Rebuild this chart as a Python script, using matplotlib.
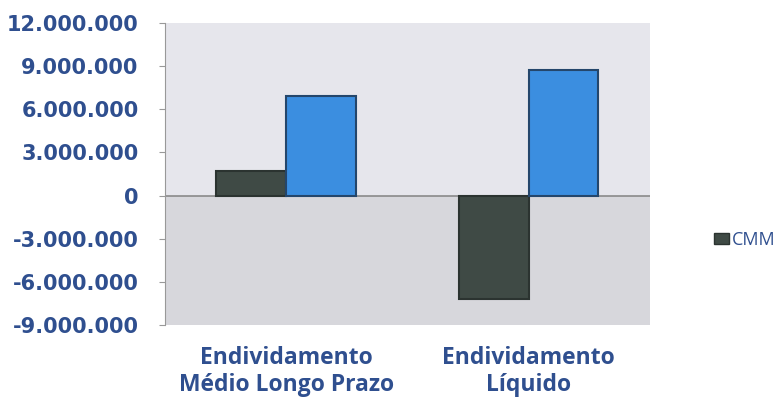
import matplotlib
matplotlib.use("Agg")
import matplotlib.pyplot as plt
from matplotlib.ticker import FuncFormatter, MultipleLocator
from matplotlib.patches import Patch

categories = ["Endividamento\nMédio Longo Prazo", "Endividamento\nLíquido"]
cmm_values = [1700000, -7200000]
other_values = [6900000, 8700000]
legend_labels = ["CMM"]

text_blue = "#2f4f8f"
dark_bar = "#3f4a45"
blue_bar = "#3b8ee0"

fig = plt.figure(figsize=(7.8, 4.0), dpi=100)
ax = fig.add_axes([0.2115, 0.1875, 0.6215, 0.755])

ymin, ymax = -9000000, 12000000
ax.set_ylim(ymin, ymax)
ax.set_xlim(-0.5, 1.5)

# two-tone backdrop above and below zero
ax.axhspan(0, ymax, color="#e6e6ec", zorder=0, lw=0)
ax.axhspan(ymin, 0, color="#d7d7dc", zorder=0, lw=0)

w = 0.288
xs = range(len(categories))
ax.bar([x - w / 2 for x in xs], cmm_values, width=w, color=dark_bar,
       edgecolor="#2b3330", linewidth=1.5, zorder=3)
ax.bar([x + w / 2 for x in xs], other_values, width=w, color=blue_bar,
       edgecolor="#24466b", linewidth=1.5, zorder=3)

ax.axhline(0, color="#8a8a8a", lw=1.2, zorder=2)

ax.yaxis.set_major_locator(MultipleLocator(3000000))
ax.yaxis.set_major_formatter(FuncFormatter(lambda v, p: f"{int(v):,}".replace(",", ".")))
ax.tick_params(axis="y", labelsize=15, labelcolor=text_blue, color="#999999",
               length=4, pad=15)
for lab in ax.get_yticklabels():
    lab.set_fontfamily("DejaVu Sans")
    lab.set_fontweight("bold")

ax.set_xticks(list(xs))
ax.set_xticklabels(categories, fontsize=16.5, fontweight="bold", color=text_blue,
                   linespacing=1.2, family=["Open Sans", "DejaVu Sans"])
ax.tick_params(axis="x", length=0, pad=15)

for s in ["top", "right", "bottom"]:
    ax.spines[s].set_visible(False)
ax.spines["left"].set_color("#999999")

handles = [Patch(facecolor=dark_bar, edgecolor="#2b3330")]
leg = fig.legend(handles, legend_labels, loc="center left",
                 bbox_to_anchor=(0.895, 0.4), frameon=False,
                 handlelength=0.8, handleheight=0.6, handletextpad=0.15,
                 prop={"size": 13, "family": ["Open Sans", "DejaVu Sans"]})
for t in leg.get_texts():
    t.set_color(text_blue)

fig.savefig("out.png", dpi=100, facecolor="white")
